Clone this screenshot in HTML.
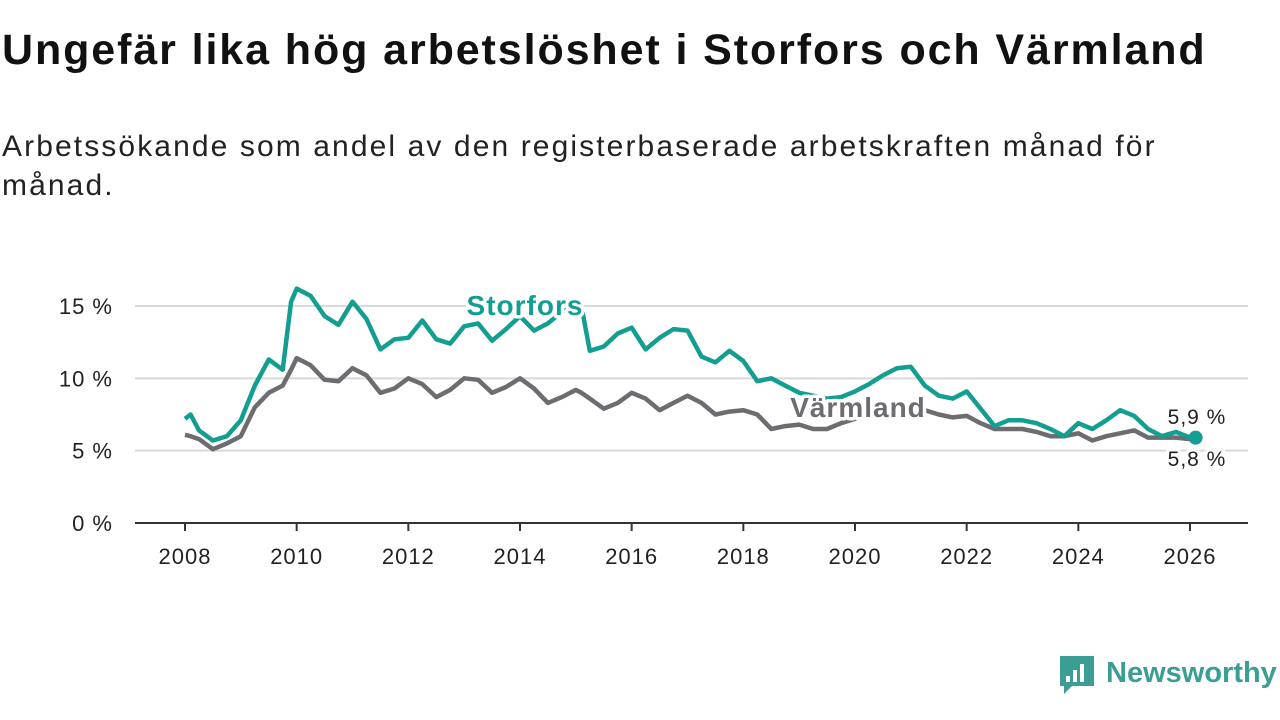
<!DOCTYPE html>
<html><head><meta charset="utf-8"><style>
body{margin:0;width:1280px;height:720px;background:#fff;font-family:"Liberation Sans","DejaVu Sans",sans-serif;overflow:hidden;position:relative}
h1{position:absolute;left:2px;top:26px;margin:0;font-size:43px;font-weight:bold;color:#111;letter-spacing:1.9px;white-space:nowrap}
p{position:absolute;left:2px;top:127px;margin:0;font-size:30px;line-height:39px;color:#222;width:1250px;letter-spacing:2.1px}
svg{position:absolute;left:0;top:0}
</style></head><body>
<h1>Ungefär lika hög arbetslöshet i Storfors och Värmland</h1>
<p>Arbetssökande som andel av den registerbaserade arbetskraften månad för<br>månad.</p>
<svg id="c" width="1280" height="720"></svg>
<script>
const dates=[2008.0,2008.1,2008.25,2008.5,2008.75,2009.0,2009.25,2009.5,2009.75,2009.9,2010.0,2010.25,2010.5,2010.75,2011.0,2011.25,2011.5,2011.75,2012.0,2012.25,2012.5,2012.75,2013.0,2013.25,2013.5,2013.75,2014.0,2014.25,2014.5,2014.75,2015.0,2015.1,2015.25,2015.5,2015.75,2016.0,2016.25,2016.5,2016.75,2017.0,2017.25,2017.5,2017.75,2018.0,2018.25,2018.5,2018.75,2019.0,2019.25,2019.5,2019.75,2020.0,2020.25,2020.5,2020.75,2021.0,2021.25,2021.5,2021.75,2022.0,2022.25,2022.5,2022.75,2023.0,2023.25,2023.5,2023.75,2024.0,2024.25,2024.5,2024.75,2025.0,2025.25,2025.5,2025.75,2026.0,2026.1];
const storfors=[7.2,7.5,6.4,5.7,6.0,7.1,9.5,11.3,10.6,15.3,16.2,15.7,14.3,13.7,15.3,14.1,12.0,12.7,12.8,14.0,12.7,12.4,13.6,13.8,12.6,13.4,14.3,13.3,13.8,14.6,15.0,15.0,11.9,12.2,13.1,13.5,12.0,12.8,13.4,13.3,11.5,11.1,11.9,11.2,9.8,10.0,9.5,9.0,8.8,8.6,8.7,9.1,9.6,10.2,10.7,10.8,9.5,8.8,8.6,9.1,7.9,6.7,7.1,7.1,6.9,6.5,6.0,6.9,6.5,7.1,7.8,7.4,6.5,6.0,6.3,5.9,5.9];
const varmland=[6.1,6.0,5.8,5.1,5.5,6.0,8.0,9.0,9.5,10.6,11.4,10.9,9.9,9.8,10.7,10.2,9.0,9.3,10.0,9.6,8.7,9.2,10.0,9.9,9.0,9.4,10.0,9.3,8.3,8.7,9.2,9.0,8.6,7.9,8.3,9.0,8.6,7.8,8.3,8.8,8.3,7.5,7.7,7.8,7.5,6.5,6.7,6.8,6.5,6.5,6.9,7.2,7.5,7.6,7.7,7.8,7.8,7.5,7.3,7.4,6.9,6.5,6.5,6.5,6.3,6.0,6.0,6.2,5.7,6.0,6.2,6.4,5.9,5.9,5.9,5.8,5.8];
const yTicks=[0,5,10,15];
const xTicks=[2008,2010,2012,2014,2016,2018,2020,2022,2024,2026];
const svg=document.getElementById('c');const NS='http://www.w3.org/2000/svg';
const X=d=>185+(d-2008)*(1190-185)/18;
const Y=v=>523-v*(523-306)/15;
function mk(t,a,p){const e=document.createElementNS(NS,t);for(const k in a)e.setAttribute(k,a[k]);(p||svg).appendChild(e);return e;}
yTicks.forEach(v=>{
 if(v>0){const g=mk('line',{x1:135,x2:1248,y1:Y(v),y2:Y(v),stroke:'#d9d9d9','stroke-width':2});
 
 }
 const t=mk('text',{x:113,y:Y(v)+8,'text-anchor':'end','font-size':22,fill:'#222','letter-spacing':1});t.textContent=v+' %';
 
 
});
const ax=mk('line',{x1:135,x2:1248,y1:523,y2:523,stroke:'#333','stroke-width':2});


xTicks.forEach(d=>{
 const l=mk('line',{x1:X(d),x2:X(d),y1:523,y2:531,stroke:'#333','stroke-width':2});
 
 
 const t=mk('text',{x:X(d),y:564,'text-anchor':'middle','font-size':22,fill:'#222','letter-spacing':1});t.textContent=d;
 
 
});
function line(vals,color,name){
 const p=mk('path',{d:vals.map((v,i)=>(i?'L':'M')+X(dates[i]).toFixed(1)+','+Y(v).toFixed(1)).join(''),fill:'none',stroke:color,'stroke-width':4.5,'stroke-linejoin':'round'});
 
 
}
line(varmland,'#6d6c70','varmland-line');
line(storfors,'#139e92','storfors-line');
const n=dates.length-1;
const dot=mk('circle',{cx:X(dates[n]),cy:Y(storfors[n]),r:7,fill:'#139e92'});


function lab(x,y,txt,color,size,bold,name){
 const t=mk('text',{x:x,y:y,'text-anchor':'middle','font-size':size,'font-weight':bold?'bold':'normal',fill:color,stroke:'#fff','stroke-width':7,'paint-order':'stroke','stroke-linejoin':'round','letter-spacing':1});t.textContent=txt;
 
 
}
lab(525,315,'Storfors','#139e92',28,true,'storfors-label');
lab(858,417,'Värmland','#6d6c70',28,true,'varmland-label');
lab(1197,424,'5,9 %','#222',21,false,'storfors-end-value');
lab(1197,466,'5,8 %','#222',21,false,'varmland-end-value');
const g=mk('g',{});


mk('path',{d:'M1060,656 h34 v30 h-22 l-8,8 v-8 h-4 z',fill:'#3a9e94'},g);
mk('rect',{x:1066,y:676,width:4,height:6,fill:'#fff'},g);
mk('rect',{x:1073,y:670,width:4,height:12,fill:'#fff'},g);
mk('rect',{x:1080,y:664,width:4,height:18,fill:'#fff'},g);
const lt=mk('text',{x:1106,y:682,'font-size':29,'font-weight':'bold',fill:'#3a9e94'},g);lt.textContent='Newsworthy';
</script>
</body></html>
